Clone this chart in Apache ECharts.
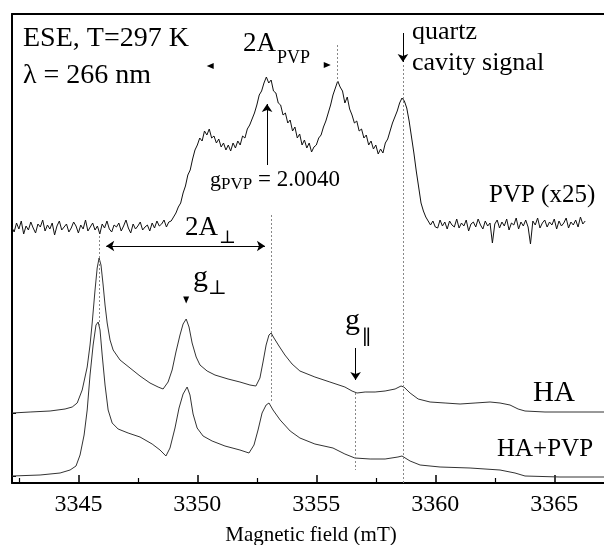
<!DOCTYPE html>
<html><head><meta charset="utf-8">
<script src="https://cdn.jsdelivr.net/npm/echarts@6/dist/echarts.min.js"></script>
<style>html,body{margin:0;padding:0;background:#fff;}#c{width:604px;height:545px;}</style>
</head><body><div id="c"></div>
<script>
// Magnetic field axis (mT)
const fieldMin = 3342.21, fieldMax = 3367.09;
const xTickValues = [3345, 3350, 3355, 3360, 3365];
const xMinorTickValues = [3342.5, 3347.5, 3352.5, 3357.5, 3362.5];
// intensity in arbitrary units (stacked traces)
const intensityMax = 469;
const baselineTicks = [7, 70];

// PVP (x25) – noisy ESE spectrum [field, intensity]
const pvp = [
[3342.2,256],[3342.3,251],[3342.4,260],[3342.5,254],[3342.6,262],[3342.7,249],[3342.8,257],[3342.9,253],
[3343.0,261],[3343.1,255],[3343.2,250],[3343.3,259],[3343.4,256],[3343.5,263],[3343.6,252],[3343.7,258],[3343.8,254],[3343.9,260],
[3344.0,248],[3344.1,257],[3344.2,262],[3344.3,253],[3344.4,256],[3344.5,259],[3344.6,251],[3344.7,255],[3344.8,261],[3344.9,257],
[3345.0,250],[3345.1,258],[3345.2,254],[3345.3,263],[3345.4,252],[3345.5,256],[3345.6,260],[3345.7,253],[3345.8,257],[3345.9,249],
[3346.0,259],[3346.1,255],[3346.2,262],[3346.3,254],[3346.4,251],[3346.5,258],[3346.6,256],[3346.7,260],[3346.8,252],[3346.9,257],
[3347.0,263],[3347.1,255],[3347.2,250],[3347.3,259],[3347.4,254],[3347.5,257],[3347.6,261],[3347.7,253],[3347.8,256],[3347.9,258],
[3348.0,252],[3348.1,260],[3348.2,255],[3348.3,262],[3348.4,257],[3348.5,259],[3348.6,263],[3348.7,256],[3348.8,261],
[3348.9,262],[3349.0,266],[3349.1,270],[3349.2,276],[3349.3,280],[3349.4,290],[3349.5,297],[3349.6,308],[3349.7,313],[3349.8,324],[3349.9,333],
[3350.0,338],[3350.1,345],[3350.2,342],[3350.3,352],[3350.4,348],[3350.5,354],[3350.6,345],[3350.7,347],[3350.8,340],[3350.9,344],
[3351.0,336],[3351.1,340],[3351.2,333],[3351.3,338],[3351.4,332],[3351.5,340],[3351.6,335],[3351.7,342],[3351.8,338],[3351.9,347],
[3352.0,345],[3352.1,354],[3352.2,358],[3352.3,364],[3352.4,370],[3352.5,378],[3352.6,388],[3352.7,392],[3352.8,400],[3352.9,406],
[3353.0,400],[3353.1,403],[3353.2,392],[3353.3,390],[3353.4,380],[3353.5,378],[3353.6,368],[3353.7,370],[3353.8,360],[3353.9,363],
[3354.0,352],[3354.1,356],[3354.2,345],[3354.3,349],[3354.4,338],[3354.5,343],[3354.6,335],[3354.7,340],[3354.8,331],[3354.9,336],
[3355.0,338],[3355.1,345],[3355.2,348],[3355.3,356],[3355.4,362],[3355.5,370],[3355.6,378],[3355.7,388],[3355.8,395],[3355.9,402],
[3356.0,396],[3356.1,392],[3356.2,380],[3356.3,386],[3356.4,374],[3356.5,368],[3356.6,360],[3356.7,362],[3356.8,352],[3356.9,354],
[3357.0,345],[3357.1,348],[3357.2,338],[3357.3,342],[3357.4,334],[3357.5,338],[3357.6,329],[3357.7,334],[3357.8,330],[3357.9,340],
[3358.0,344],[3358.1,352],[3358.2,360],[3358.3,366],[3358.4,372],[3358.5,380],[3358.6,385],[3358.7,382],[3358.8,375],[3358.9,362],
[3359.0,346],[3359.1,330],[3359.2,312],[3359.3,296],[3359.4,280],[3359.5,272],[3359.6,266],[3359.7,262],[3359.8,258],[3359.9,262],
[3360.0,256],[3360.1,255],[3360.2,263],[3360.3,257],[3360.4,261],[3360.5,254],[3360.6,262],[3360.7,258],[3360.8,256],[3360.9,264],
[3361.0,255],[3361.1,260],[3361.2,257],[3361.3,263],[3361.4,252],[3361.5,259],[3361.6,261],[3361.7,256],[3361.8,264],[3361.9,258],
[3362.0,254],[3362.1,262],[3362.2,257],[3362.3,260],[3362.4,240],[3362.5,259],[3362.6,263],[3362.7,255],[3362.8,261],[3362.9,257],
[3363.0,264],[3363.1,253],[3363.2,260],[3363.3,258],[3363.4,265],[3363.5,254],[3363.6,261],[3363.7,257],[3363.8,263],[3363.9,256],
[3364.0,239],[3364.1,262],[3364.2,258],[3364.3,265],[3364.4,255],[3364.5,260],[3364.6,263],[3364.7,256],[3364.8,261],[3364.9,258],
[3365.0,264],[3365.1,254],[3365.2,262],[3365.3,257],[3365.4,260],[3365.5,265],[3365.6,255],[3365.7,261],[3365.8,258],[3365.9,263],
[3366.0,256],[3366.1,266],[3366.2,259],[3366.3,262]
];

// HA spectrum
const ha = [
[3342.21,70],[3342.97,71],[3343.81,72],[3344.44,74],[3344.74,76],[3344.95,80],[3345.16,93],[3345.37,116],[3345.49,138],
[3345.58,160],[3345.70,193],[3345.79,215],[3345.87,225],[3345.95,218],[3346.04,198],[3346.12,178],[3346.21,160],[3346.33,143],
[3346.46,133],[3346.75,123],[3347.17,115],[3347.59,107],[3348.01,100],[3348.35,96],[3348.56,94],[3348.77,101],[3348.94,113],
[3349.10,131],[3349.27,148],[3349.40,159],[3349.53,164],[3349.65,156],[3349.78,140],[3349.95,126],[3350.11,118],[3350.41,112],
[3350.74,108],[3351.29,104],[3351.79,101],[3352.21,98],[3352.46,97],[3352.63,105],[3352.76,121],[3352.89,138],[3353.01,148],
[3353.10,150],[3353.22,145],[3353.43,137],[3353.68,128],[3353.98,119],[3354.31,112],[3354.94,106],[3355.57,101],[3356.20,96],
[3356.50,92],[3356.71,90],[3357.05,91],[3357.47,91],[3357.89,92],[3358.31,94],[3358.56,97],[3358.68,96],[3358.94,90],[3359.28,84],
[3359.78,81],[3360.41,80],[3361.04,79],[3361.67,80],[3362.30,81],[3362.72,80],[3363.14,78],[3363.48,74],[3363.77,72],[3364.61,71],
[3365.66,71],[3367.09,71]
];

// HA+PVP spectrum
const haPvp = [
[3342.21,7],[3343.39,8],[3344.23,10],[3344.65,13],[3344.90,17],[3345.07,28],[3345.24,48],[3345.37,73],[3345.49,108],[3345.62,138],
[3345.74,158],[3345.83,161],[3345.91,153],[3346.00,128],[3346.12,98],[3346.25,73],[3346.42,60],[3346.67,54],[3347.09,50],[3347.59,46],
[3348.10,39],[3348.43,33],[3348.68,27],[3348.85,35],[3349.06,55],[3349.23,75],[3349.40,89],[3349.57,96],[3349.69,88],[3349.82,69],
[3349.99,55],[3350.24,47],[3350.62,42],[3351.16,37],[3351.79,33],[3352.17,30],[3352.38,38],[3352.55,53],[3352.72,70],[3352.89,78],
[3353.01,80],[3353.18,73],[3353.48,63],[3353.90,52],[3354.31,45],[3354.94,39],[3355.70,35],[3356.20,29],[3356.62,25],[3357.26,24],
[3357.89,24],[3358.43,26],[3358.60,27],[3358.94,22],[3359.36,18],[3360.20,16],[3361.46,15],[3362.72,13],[3363.35,10],[3363.77,7],
[3365.24,6],[3367.09,6]
];

// annotation anchors in data units [field, intensity]
const dottedGuides = [
  [[3345.87,247],[3345.87,156]],
  [[3353.10,268],[3353.10,80]],
  [[3355.86,438],[3355.86,401]],
  [[3358.64,418],[3358.64,0]],
  [[3356.65,90],[3356.65,13]]
];
const singleArrows = [
  [[3358.64,450],[3358.64,421]],
  [[3352.93,318],[3352.93,379]],
  [[3356.65,135],[3356.65,103]]
];
const doubleArrows = [
  [[3346.17,237],[3352.84,237]]
];
const arrowHeads = [
  {coord:[3349.53,183], rot:180},
  {coord:[3350.54,417], rot:90},
  {coord:[3355.46,418], rot:-90}
];

const serif = '"Liberation Serif","DejaVu Serif",serif';
function txt(text, x, y, size, align) {
  return {type:'text', x:x, y:y, silent:true, z:100,
    style:{text:text, fontFamily:serif, fontSize:size, fill:'#000',
      align:align||'left', verticalAlign:'middle'}};
}
const texts = [
  txt('ESE, T=297 K', 23, 38.5, 28),
  txt('λ = 266 nm', 23, 75.5, 28),
  txt('2A', 243, 44, 27),
  txt('PVP', 277, 58, 18),
  txt('quartz', 412, 32, 26),
  txt('cavity signal', 412, 63, 26),
  txt('g', 210, 180, 22),
  txt('PVP', 221, 185, 17),
  txt('= 2.0040', 258, 180, 23),
  txt('PVP (x25)', 489, 195.5, 25),
  txt('2A', 185, 228, 27),
  txt('⊥', 219, 238, 18),
  txt('g', 193, 278, 30),
  txt('⊥', 208, 289, 20),
  txt('g', 345, 321, 30),
  txt('∥', 362, 339, 20),
  txt('HA', 533, 393, 29),
  txt('HA+PVP', 497, 449.5, 25),
  txt('Magnetic field (mT)', 311, 535, 21, 'center')
];

const chart = echarts.init(document.getElementById('c'), null, {renderer:'canvas'});
const toSeg = s => [{coord:s[0]},{coord:s[1]}];
chart.setOption({
  animation:false,
  backgroundColor:'#fff',
  grid:{left:12, right:0, top:14, bottom:62, containLabel:false, outerBoundsMode:'none'},
  xAxis:[
    {type:'value', min:fieldMin, max:fieldMax, position:'bottom',
     axisLine:{show:true, lineStyle:{color:'#000', width:2}},
     axisTick:{show:true, inside:true, length:8, customValues:xTickValues, lineStyle:{color:'#000', width:1.5}},
     axisLabel:{show:true, customValues:xTickValues, formatter:v => String(Math.round(v)), margin:10, color:'#000', fontSize:24, fontFamily:serif},
     splitLine:{show:false}},
    {type:'value', min:fieldMin, max:fieldMax, position:'bottom',
     axisLine:{show:false},
     axisTick:{show:true, inside:true, length:5, customValues:xMinorTickValues, lineStyle:{color:'#000', width:1.2}},
     axisLabel:{show:false}, splitLine:{show:false}},
    {type:'value', min:fieldMin, max:fieldMax, position:'top',
     axisLine:{show:true, lineStyle:{color:'#000', width:2}},
     axisTick:{show:false}, axisLabel:{show:false}, splitLine:{show:false}}
  ],
  yAxis:{type:'value', min:0, max:intensityMax, position:'left',
     axisLine:{show:true, lineStyle:{color:'#000', width:2}},
     axisTick:{show:true, inside:true, length:4, customValues:baselineTicks, lineStyle:{color:'#000', width:1}},
     axisLabel:{show:false}, splitLine:{show:false}},
  series:[
    {name:'PVP (x25)', type:'line', data:pvp, showSymbol:false, silent:true,
     lineStyle:{color:'#111', width:1},
     markLine:{silent:true, symbol:['none','none'], label:{show:false},
       lineStyle:{color:'#888', width:1, type:[2,2]},
       data:dottedGuides.map(toSeg)}},
    {name:'HA', type:'line', data:ha, showSymbol:false, silent:true,
     lineStyle:{color:'#333', width:1},
     markLine:{silent:true, symbol:['none','arrow'], symbolSize:8, label:{show:false},
       lineStyle:{color:'#000', width:1, type:'solid'},
       data:singleArrows.map(toSeg)}},
    {name:'HA+PVP', type:'line', data:haPvp, showSymbol:false, silent:true,
     lineStyle:{color:'#333', width:1},
     markLine:{silent:true, symbol:['arrow','arrow'], symbolSize:8, label:{show:false},
       lineStyle:{color:'#000', width:1, type:'solid'},
       data:doubleArrows.map(toSeg)},
     markPoint:{silent:true, symbol:'triangle', symbolSize:[6,7], label:{show:false},
       itemStyle:{color:'#000'},
       data:arrowHeads.map(a => ({coord:a.coord, symbolRotate:a.rot}))}}
  ],
  graphic:texts
});
</script></body></html>
